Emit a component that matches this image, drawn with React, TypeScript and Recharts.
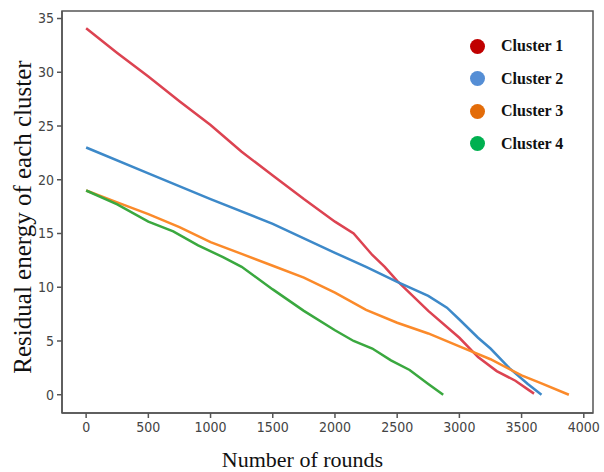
import React from "react";
import { Line, LineChart, ReferenceArea, XAxis, YAxis } from "recharts";

// Residual energy per cluster over the simulation rounds
const cluster1Rounds = [0, 250, 500, 750, 1000, 1250, 1500, 1750, 2000, 2150, 2300, 2400, 2500, 2750, 3000, 3150, 3300, 3450, 3550, 3600];
const cluster1Energy = [34.1, 31.8, 29.6, 27.3, 25.1, 22.6, 20.4, 18.2, 16.1, 15.0, 13.0, 11.9, 10.6, 7.8, 5.3, 3.5, 2.2, 1.3, 0.5, 0.1];

const cluster2Rounds = [0, 500, 1000, 1500, 2000, 2250, 2500, 2750, 2900, 3000, 3150, 3250, 3400, 3550, 3660];
const cluster2Energy = [23.0, 20.6, 18.2, 15.9, 13.2, 11.9, 10.5, 9.2, 8.1, 7.0, 5.3, 4.3, 2.5, 1.0, 0.0];

const cluster3Rounds = [0, 250, 500, 750, 1000, 1250, 1500, 1750, 2000, 2250, 2500, 2750, 3000, 3250, 3500, 3650, 3880];
const cluster3Energy = [19.0, 17.9, 16.8, 15.6, 14.2, 13.1, 12.0, 10.9, 9.5, 7.9, 6.7, 5.7, 4.5, 3.3, 1.8, 1.1, 0.0];

const cluster4Rounds = [0, 250, 500, 700, 900, 1100, 1250, 1500, 1750, 2000, 2150, 2300, 2450, 2600, 2750, 2870];
const cluster4Energy = [19.0, 17.7, 16.1, 15.2, 13.9, 12.8, 11.9, 9.8, 7.8, 6.0, 5.0, 4.3, 3.2, 2.3, 1.0, 0.0];

const xTicks = [0, 500, 1000, 1500, 2000, 2500, 3000, 3500, 4000];
const yTicks = [0, 5, 10, 15, 20, 25, 30, 35];

const xDomain: [number, number] = [-194, 4074];
const yDomain: [number, number] = [-1.7, 35.7];

const toPoints = (rounds: number[], energy: number[]) =>
  rounds.map((round, i) => ({ round, energy: energy[i] }));

const series = [
  { name: "Cluster 1", data: toPoints(cluster1Rounds, cluster1Energy), line: "#dc4351", dot: "#c00000" },
  { name: "Cluster 2", data: toPoints(cluster2Rounds, cluster2Energy), line: "#3d89c9", dot: "#558ed5" },
  { name: "Cluster 3", data: toPoints(cluster3Rounds, cluster3Energy), line: "#fb8a2a", dot: "#e36c09" },
  { name: "Cluster 4", data: toPoints(cluster4Rounds, cluster4Energy), line: "#3aa83f", dot: "#00b050" },
];

const frame = "#555555";
const serif = "Liberation Serif, Times New Roman, serif";
const tickStyle = { fill: "#444444", fontSize: 14, fontFamily: "DejaVu Sans", fontStretch: "condensed" };

function ClusterLegend() {
  return (
    <div
      style={{
        position: "absolute",
        left: 470,
        top: 30,
        fontFamily: serif,
        fontWeight: "bold",
        fontSize: 16,
        color: "#111",
      }}
    >
      {series.map((s) => (
        <div key={s.name} style={{ display: "flex", alignItems: "center", height: 32.5 }}>
          <span
            style={{
              display: "inline-block",
              width: 15,
              height: 15,
              borderRadius: "50%",
              background: s.dot,
              marginRight: 16,
            }}
          />
          <span>{s.name}</span>
        </div>
      ))}
    </div>
  );
}

export default function App() {
  return (
    <div style={{ position: "absolute", left: 0, top: 0, width: 604, height: 472, background: "#fff" }}>
      <LineChart width={604} height={472} margin={{ top: 11, right: 11, bottom: 0, left: 0 }}>
        <XAxis
          type="number"
          dataKey="round"
          domain={xDomain}
          ticks={xTicks}
          allowDataOverflow
          height={59}
          stroke={frame}
          strokeWidth={1.5}
          tickSize={5}
          tickMargin={4}
          tick={tickStyle}
          label={{
            value: "Number of rounds",
            position: "insideBottom",
            offset: 5,
            dx: -25,
            style: { fontFamily: serif, fontSize: 22, fill: "#111" },
          }}
        />
        <YAxis
          type="number"
          domain={yDomain}
          ticks={yTicks}
          allowDataOverflow
          width={62}
          stroke={frame}
          strokeWidth={1.5}
          tickSize={5}
          tickMargin={3}
          tick={tickStyle}
          label={{
            value: "Residual energy of each cluster",
            angle: -90,
            position: "insideLeft",
            offset: 22,
            dy: 5,
            style: { fontFamily: serif, fontSize: 25, fill: "#111", textAnchor: "middle" },
          }}
        />
        {/* box around the plotting area */}
        <ReferenceArea
          x1={xDomain[0]}
          x2={xDomain[1]}
          y1={yDomain[0]}
          y2={yDomain[1]}
          fill="none"
          fillOpacity={0}
          stroke={frame}
          strokeWidth={1.5}
          ifOverflow="visible"
        />
        {series.map((s) => (
          <Line
            key={s.name}
            data={s.data}
            dataKey="energy"
            name={s.name}
            type="linear"
            stroke={s.line}
            strokeWidth={2.5}
            dot={false}
            activeDot={false}
            isAnimationActive={false}
          />
        ))}
      </LineChart>
      <ClusterLegend />
    </div>
  );
}
